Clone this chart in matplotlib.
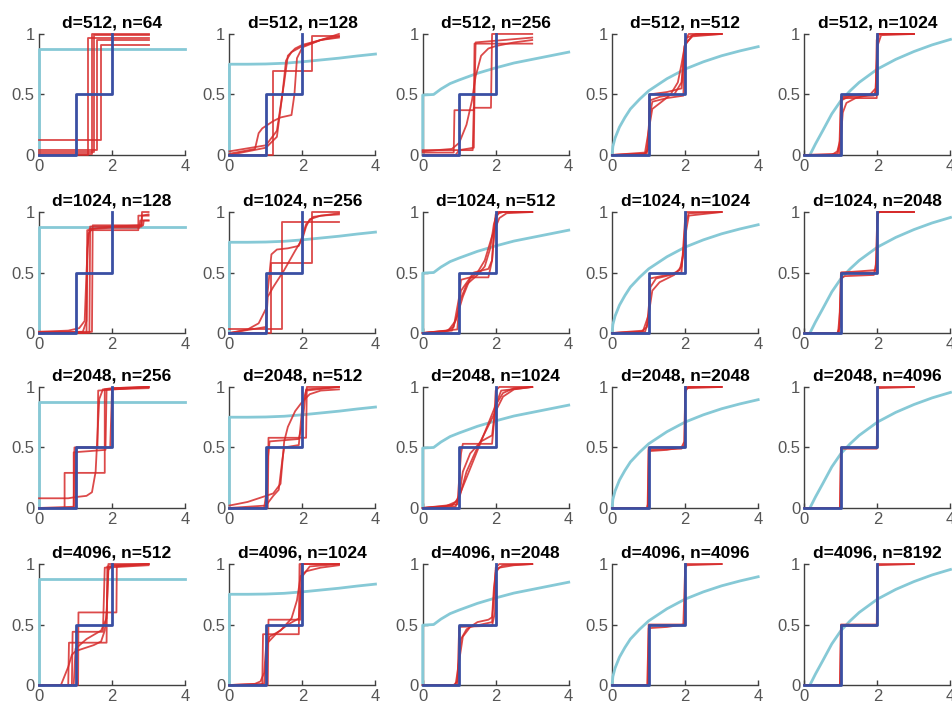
import matplotlib
matplotlib.use("Agg")
from matplotlib import pyplot as plt

plt.rcParams['font.family'] = ['Liberation Sans', 'DejaVu Sans']

d_values = [512, 1024, 2048, 4096]
n_factors = [1 / 8, 1 / 4, 1 / 2, 1, 2]

# population spectrum (step)
blue_x = [0, 1, 1, 2, 2]
blue_y = [0, 0, 0.5, 0.5, 1]

# limiting spectral cdf per column (n/d)
cyan_x = [
    [0, 0, 4],
    [0, 0, 0.5, 1, 1.5, 2, 2.5, 3, 3.5, 4],
    [0, 0, 0.3, 0.5, 0.75, 1, 1.5, 2, 2.5, 3, 3.5, 4],
    [0, 0.02, 0.08, 0.2, 0.35, 0.5, 0.75, 1, 1.5, 2, 2.5, 3, 3.5, 4],
    [0.15, 0.3, 0.5, 0.75, 1, 1.25, 1.5, 2, 2.5, 3, 3.5, 4],
]
cyan_y = [
    [0, 0.875, 0.875],
    [0, 0.75, 0.75, 0.752, 0.758, 0.77, 0.785, 0.80, 0.818, 0.834],
    [0, 0.495, 0.5, 0.545, 0.59, 0.62, 0.675, 0.72, 0.76, 0.79, 0.82, 0.85],
    [0, 0.07, 0.14, 0.23, 0.31, 0.38, 0.46, 0.53, 0.63, 0.71, 0.77, 0.82, 0.86, 0.895],
    [0, 0.09, 0.2, 0.34, 0.45, 0.53, 0.6, 0.71, 0.79, 0.855, 0.91, 0.955],
]

# empirical cdfs, one list of (x, y) points per run
red_512_64 = [
    [(0, 0.124), (1.69, 0.124), (1.69, 0.91), (3, 0.91)],
    [(0, 0.04), (1.59, 0.04), (1.59, 0.95), (3, 0.95)],
    [(0, 0.025), (1.51, 0.025), (1.51, 0.99), (3, 0.99)],
    [(0, 0.01), (1.44, 0.01), (1.44, 1.0), (3, 1.0)],
    [(0, 0.0), (1.35, 0.0), (1.35, 0.97), (3, 0.97)],
]
red_512_128 = [
    [(0, 0), (1.2, 0), (1.2, 0.69), (2.27, 0.69), (2.27, 0.98), (3, 0.98)],
    [(0, 0.03), (1.0, 0.08), (1.3, 0.2), (1.5, 0.6), (1.6, 0.82), (1.8, 0.88), (2.0, 0.91), (2.5, 0.95), (3, 0.97)],
    [(0, 0.01), (0.7, 0.05), (0.8, 0.18), (0.9, 0.22), (1.2, 0.28), (1.4, 0.31), (1.7, 0.33), (1.78, 0.5),
     (1.85, 0.8), (2.0, 0.89), (2.5, 0.95), (3, 0.98)],
    [(0, 0.0), (1.0, 0.06), (1.3, 0.15), (1.45, 0.5), (1.55, 0.78), (1.7, 0.85), (2.0, 0.9), (3, 1.0)],
]
red_512_256 = [
    [(0, 0.02), (0.85, 0.02), (0.87, 0.37), (1.4, 0.37), (1.42, 0.92), (3, 0.92)],
    [(0, 0.04), (1.37, 0.04), (1.4, 0.39), (1.87, 0.39), (1.9, 1.0), (3, 1.0)],
    [(0, 0.03), (0.8, 0.05), (1.0, 0.1), (1.2, 0.25), (1.35, 0.45), (1.45, 0.65), (1.6, 0.82), (1.8, 0.88),
     (2.0, 0.9), (2.5, 0.93), (3, 0.95)],
    [(0, 0.0), (0.9, 0.0), (1.0, 0.04), (1.4, 0.06), (1.42, 0.5), (1.45, 0.93), (3, 0.97)],
]
red_512_512 = [
    [(0, 0), (0.85, 0), (0.95, 0.03), (1.0, 0.1), (1.02, 0.5), (1.5, 0.52), (1.9, 0.55), (1.97, 0.8),
     (2.05, 0.97), (2.3, 1.0), (3, 1.0)],
    [(0, 0), (0.9, 0.01), (1.0, 0.05), (1.03, 0.45), (1.3, 0.48), (1.7, 0.5), (1.9, 0.6), (1.98, 0.9),
     (2.2, 0.99), (3, 1.0)],
    [(0, 0), (0.95, 0.01), (1.02, 0.3), (1.1, 0.44), (1.5, 0.47), (1.95, 0.49), (2.0, 0.95), (2.1, 1.0), (3, 1.0)],
    [(0, 0), (0.9, 0.02), (1.0, 0.2), (1.1, 0.38), (1.4, 0.45), (1.6, 0.5), (1.8, 0.6), (1.9, 0.75),
     (2.0, 0.92), (2.2, 0.98), (3, 1.0)],
]
red_512_1024 = [
    [(0, 0), (0.75, 0), (0.9, 0.03), (1.0, 0.15), (1.05, 0.35), (1.15, 0.43), (1.4, 0.47), (1.8, 0.5),
     (1.95, 0.55), (2.0, 0.9), (2.1, 0.99), (3, 1.0)],
    [(0, 0), (0.9, 0.01), (0.98, 0.1), (1.0, 0.45), (1.2, 0.48), (1.9, 0.49), (1.97, 0.55), (2.0, 0.95),
     (2.05, 1.0), (3, 1.0)],
    [(0, 0), (0.95, 0.0), (1.0, 0.48), (1.5, 0.5), (1.95, 0.5), (1.98, 0.95), (2.02, 1.0), (3, 1.0)],
    [(0, 0), (1.0, 0), (1.02, 0.47), (1.98, 0.47), (2.0, 1.0), (3, 1.0)],
]
red_1024_128 = [
    [(0, 0.01), (0.8, 0.02), (1.1, 0.04), (1.25, 0.1), (1.3, 0.5), (1.35, 0.82), (1.45, 0.86), (2, 0.87),
     (2.75, 0.87), (2.77, 0.93), (3, 0.93)],
    [(0, 0.0), (1.3, 0.0), (1.32, 0.85), (2.72, 0.85), (2.72, 0.97), (3, 0.97)],
    [(0, 0.0), (1.38, 0.0), (1.4, 0.88), (2.81, 0.88), (2.82, 1.0), (3, 1.0)],
    [(0, 0.01), (1.45, 0.01), (1.47, 0.89), (2.85, 0.89), (2.87, 0.93), (3, 0.93)],
    [(0, 0.0), (1.2, 0.01), (1.3, 0.1), (1.33, 0.7), (1.38, 0.86), (2.0, 0.88), (2.8, 0.89), (2.82, 0.97), (3, 0.98)],
]
red_1024_256 = [
    [(0, 0.0), (0.5, 0.03), (0.8, 0.08), (1.0, 0.2), (1.1, 0.5), (1.15, 0.65), (1.3, 0.69), (1.6, 0.7),
     (1.9, 0.72), (2.0, 0.8), (2.1, 0.9), (2.3, 0.96), (3, 0.99)],
    [(0, 0.0), (1.0, 0.05), (1.05, 0.3), (1.2, 0.38), (1.5, 0.52), (1.8, 0.68), (2.0, 0.78), (2.1, 0.88),
     (2.2, 0.94), (2.5, 0.97), (3, 0.98)],
    [(0, 0.03), (1.43, 0.03), (1.43, 0.92), (3, 0.92)],
    [(0, 0.0), (1.15, 0.0), (1.15, 0.58), (2.27, 0.58), (2.27, 1.0), (3, 1.0)],
]
red_1024_512 = [
    [(0, 0), (0.6, 0.01), (0.85, 0.05), (1.0, 0.3), (1.05, 0.44), (1.3, 0.46), (1.8, 0.46), (1.9, 0.6),
     (1.95, 0.85), (2.0, 0.98), (2.2, 1.0), (3, 1.0)],
    [(0, 0), (0.7, 0.02), (0.9, 0.1), (1.1, 0.3), (1.3, 0.45), (1.5, 0.5), (1.7, 0.6), (1.9, 0.8),
     (2.1, 0.95), (2.3, 0.99), (3, 1.0)],
    [(0, 0), (0.8, 0.02), (0.95, 0.15), (1.05, 0.35), (1.4, 0.5), (1.8, 0.53), (1.9, 0.6), (2.0, 0.95),
     (2.1, 1.0), (3, 1.0)],
    [(0, 0), (0.95, 0.03), (1.0, 0.25), (1.2, 0.4), (1.5, 0.48), (1.7, 0.55), (1.85, 0.7), (1.95, 0.9),
     (2.05, 1.0), (3, 1.0)],
]
red_1024_1024 = [
    [(0, 0), (0.8, 0.01), (0.95, 0.05), (1.0, 0.2), (1.05, 0.38), (1.2, 0.45), (1.6, 0.48), (1.85, 0.52),
     (1.95, 0.65), (2.0, 0.9), (2.1, 0.99), (3, 1.0)],
    [(0, 0), (0.9, 0.01), (1.0, 0.1), (1.02, 0.45), (1.5, 0.48), (1.9, 0.5), (2.0, 0.95), (2.05, 1.0), (3, 1.0)],
    [(0, 0), (0.85, 0.02), (1.0, 0.15), (1.1, 0.35), (1.3, 0.42), (1.7, 0.48), (1.9, 0.55), (2.0, 0.8),
     (2.1, 0.97), (3, 1.0)],
]
red_1024_2048 = [
    [(0, 0), (0.9, 0.0), (0.97, 0.05), (1.0, 0.45), (1.1, 0.47), (1.9, 0.48), (1.98, 0.6), (2.0, 0.98),
     (2.05, 1.0), (3, 1.0)],
    [(0, 0), (0.92, 0.0), (0.98, 0.2), (1.02, 0.5), (1.5, 0.51), (1.95, 0.52), (1.99, 0.9), (2.02, 1.0), (3, 1.0)],
    [(0, 0), (0.95, 0), (1.0, 0.5), (1.97, 0.5), (2.0, 1.0), (3, 1.0)],
]
red_2048_256 = [
    [(0, 0.08), (0.8, 0.08), (1.0, 0.09), (1.3, 0.1), (1.45, 0.13), (1.55, 0.3), (1.6, 0.6), (1.65, 0.9),
     (1.75, 0.98), (2, 0.99), (3, 1.0)],
    [(0, 0.0), (0.7, 0.0), (0.7, 0.29), (1.8, 0.29), (1.8, 0.98), (3, 0.99)],
    [(0, 0.0), (0.95, 0.0), (0.95, 0.46), (1.82, 0.48), (1.85, 0.98), (3, 1.0)],
    [(0, 0.0), (1.0, 0.0), (1.02, 0.5), (1.95, 0.5), (2.0, 0.99), (3, 1.0)],
    [(0, 0.0), (0.95, 0.01), (0.97, 0.5), (1.6, 0.5), (1.62, 0.97), (3, 1.0)],
]
red_2048_512 = [
    [(0, 0.02), (0.5, 0.05), (1.0, 0.1), (1.2, 0.12), (1.4, 0.2), (1.5, 0.55), (1.6, 0.67), (1.8, 0.8),
     (2.0, 0.88), (2.2, 0.94), (2.5, 0.97), (3, 0.98)],
    [(0, 0.0), (0.95, 0.0), (1.0, 0.1), (1.05, 0.4), (1.1, 0.55), (1.5, 0.56), (1.9, 0.57), (2.0, 0.7),
     (2.1, 0.98), (3, 1.0)],
    [(0, 0.0), (1.05, 0.0), (1.07, 0.58), (2.1, 0.58), (2.12, 1.0), (3, 1.0)],
    [(0, 0.0), (1.0, 0.02), (1.2, 0.1), (1.35, 0.15), (1.45, 0.4), (1.5, 0.5), (1.9, 0.52), (2.0, 0.85),
     (2.1, 0.97), (3, 1.0)],
]
red_2048_1024 = [
    [(0, 0), (0.6, 0.01), (0.9, 0.05), (1.0, 0.1), (1.2, 0.25), (1.4, 0.4), (1.6, 0.55), (1.8, 0.7),
     (2.0, 0.85), (2.2, 0.95), (2.5, 0.99), (3, 1.0)],
    [(0, 0), (0.8, 0.02), (1.0, 0.08), (1.2, 0.3), (1.5, 0.5), (1.8, 0.68), (2.0, 0.8), (2.2, 0.92),
     (2.5, 0.98), (3, 1.0)],
    [(0, 0), (0.95, 0.03), (1.05, 0.45), (1.1, 0.53), (1.9, 0.53), (1.95, 0.7), (2.0, 0.97), (2.1, 1.0), (3, 1.0)],
    [(0, 0), (0.9, 0.01), (1.0, 0.1), (1.1, 0.3), (1.3, 0.45), (1.6, 0.55), (1.9, 0.6), (2.0, 0.85),
     (2.15, 0.97), (3, 1.0)],
]
red_2048_2048 = [
    [(0, 0), (0.95, 0.0), (1.0, 0.05), (1.02, 0.47), (1.5, 0.48), (1.9, 0.5), (1.98, 0.55), (2.0, 0.97),
     (2.1, 1.0), (3, 1.0)],
    [(0, 0), (0.97, 0.0), (1.0, 0.48), (1.9, 0.49), (1.98, 0.52), (2.0, 0.95), (2.05, 0.99), (3, 1.0)],
    [(0, 0), (0.98, 0), (1.0, 0.5), (1.99, 0.5), (2.0, 1.0), (3, 1.0)],
]
red_2048_4096 = [
    [(0, 0), (0.97, 0.0), (1.0, 0.49), (1.98, 0.49), (2.0, 0.99), (3, 1.0)],
    [(0, 0), (0.98, 0), (1.0, 0.5), (1.99, 0.5), (2.0, 1.0), (3, 1.0)],
]
red_4096_512 = [
    [(0, 0.0), (0.6, 0.0), (0.8, 0.15), (0.9, 0.25), (1.0, 0.28), (1.2, 0.3), (1.5, 0.33), (1.7, 0.36),
     (1.8, 0.45), (1.85, 0.6), (1.9, 0.95), (2.0, 0.99), (3, 1.0)],
    [(0, 0.0), (0.8, 0.0), (0.82, 0.35), (1.85, 0.35), (1.87, 0.98), (3, 1.0)],
    [(0, 0), (1.07, 0), (1.08, 0.6), (2.12, 0.6), (2.13, 0.98), (3, 1.0)],
    [(0, 0.0), (0.9, 0.0), (0.92, 0.44), (1.75, 0.44), (1.8, 0.97), (3, 0.99)],
    [(0, 0.0), (0.95, 0.0), (1.0, 0.3), (1.3, 0.38), (1.7, 0.45), (1.85, 0.55), (1.9, 1.0), (3, 1.0)],
]
red_4096_1024 = [
    [(0, 0), (0.7, 0.01), (0.85, 0.03), (0.95, 0.1), (1.0, 0.3), (1.1, 0.4), (1.4, 0.45), (1.7, 0.55),
     (1.85, 0.7), (1.95, 0.9), (2.1, 0.94), (2.5, 0.97), (3, 0.99)],
    [(0, 0), (0.95, 0.01), (1.0, 0.2), (1.05, 0.35), (1.3, 0.43), (1.6, 0.5), (1.9, 0.55), (2.0, 0.9),
     (2.2, 0.98), (3, 1.0)],
    [(0, 0), (0.9, 0.0), (0.92, 0.42), (1.9, 0.42), (1.92, 1.0), (3, 1.0)],
    [(0, 0), (1.05, 0.0), (1.07, 0.54), (1.95, 0.54), (1.97, 1.0), (3, 1.0)],
]
red_4096_2048 = [
    [(0, 0), (0.85, 0.0), (0.95, 0.03), (1.0, 0.25), (1.05, 0.38), (1.2, 0.46), (1.5, 0.52), (1.8, 0.54),
     (1.9, 0.56), (1.95, 0.8), (2.0, 0.93), (2.1, 0.97), (2.5, 0.99), (3, 1.0)],
    [(0, 0), (0.9, 0.0), (1.0, 0.2), (1.1, 0.4), (1.3, 0.48), (1.6, 0.5), (1.9, 0.52), (2.0, 0.95),
     (2.2, 0.99), (3, 1.0)],
    [(0, 0), (0.95, 0.0), (1.0, 0.48), (1.9, 0.49), (1.98, 0.6), (2.0, 0.97), (2.1, 1.0), (3, 1.0)],
]
red_4096_4096 = [
    [(0, 0), (0.96, 0.0), (1.0, 0.47), (1.5, 0.48), (1.95, 0.5), (2.0, 0.97), (2.05, 0.99), (3, 1.0)],
    [(0, 0), (0.98, 0), (1.0, 0.5), (1.99, 0.5), (2.0, 1.0), (3, 1.0)],
]
red_4096_8192 = [
    [(0, 0), (0.97, 0.0), (1.0, 0.49), (1.98, 0.49), (2.0, 0.99), (3, 1.0)],
    [(0, 0), (0.98, 0), (1.0, 0.5), (1.99, 0.5), (2.0, 1.0), (3, 1.0)],
]

red_runs = [
    [red_512_64, red_512_128, red_512_256, red_512_512, red_512_1024],
    [red_1024_128, red_1024_256, red_1024_512, red_1024_1024, red_1024_2048],
    [red_2048_256, red_2048_512, red_2048_1024, red_2048_2048, red_2048_4096],
    [red_4096_512, red_4096_1024, red_4096_2048, red_4096_4096, red_4096_8192],
]

RED = '#d62a2a'
BLUE = '#3a4fa3'
CYAN = '#86c9d6'
AXIS = '#404040'

fig = plt.figure(figsize=(9.52, 7.06), dpi=100)

lefts = [0.041, 0.241, 0.444, 0.643, 0.845]
bottoms = [0.7805, 0.5283, 0.2805, 0.0297]
w, h = 0.1534, 0.1714

for i, d in enumerate(d_values):
    for j, f in enumerate(n_factors):
        n = int(d * f)
        ax = fig.add_axes([lefts[j], bottoms[i], w, h])

        ax.plot(cyan_x[j], cyan_y[j], color=CYAN, linewidth=2, clip_on=False, zorder=3)
        for run in red_runs[i][j]:
            xs = [p[0] for p in run]
            ys = [p[1] for p in run]
            ax.plot(xs, ys, color=RED, linewidth=1.3, alpha=0.85, clip_on=False, zorder=3.1)
        ax.plot(blue_x, blue_y, color=BLUE, linewidth=2, clip_on=False, zorder=3.2)

        ax.set_xlim(0, 4)
        ax.set_ylim(0, 1)
        ax.set_xticks([0, 2, 4])
        ax.set_yticks([0, 0.5, 1])
        ax.set_yticklabels(['0', '0.5', '1'])
        for side in ['top', 'right']:
            ax.spines[side].set_visible(False)
        for side in ['left', 'bottom']:
            ax.spines[side].set_color(AXIS)
            ax.spines[side].set_linewidth(1)
        ax.tick_params(direction='in', length=3.5, width=1, color=AXIS,
                       labelcolor='#555555', labelsize=12, pad=3)
        ax.set_title("d=%d, n=%d" % (d, n), fontsize=12.5, fontweight='bold', pad=5)

plt.savefig('out.png', dpi=100)
plt.close()
